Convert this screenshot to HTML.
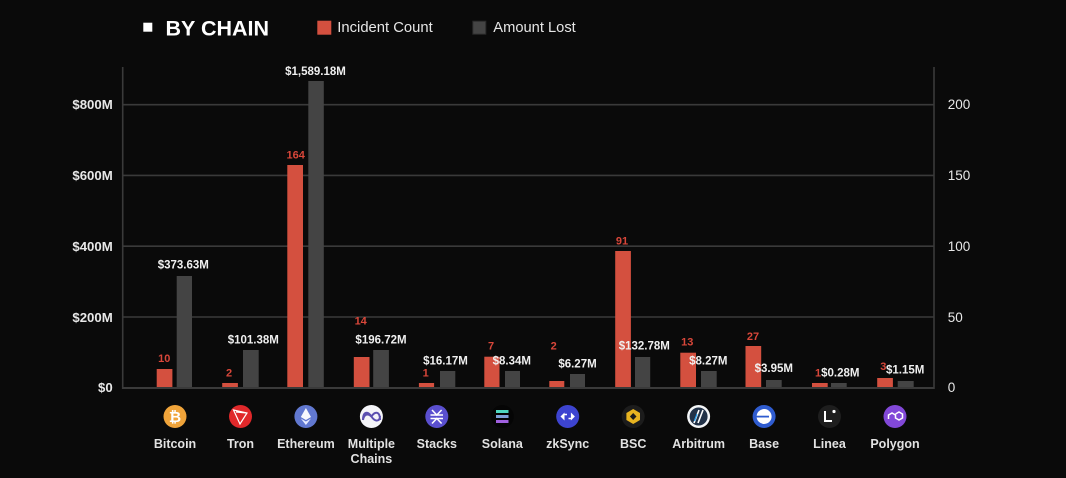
<!DOCTYPE html>
<html><head><meta charset="utf-8"><style>
html,body{margin:0;padding:0;background:#0a0a0a;}
svg{display:block;}
text{font-family:"Liberation Sans",sans-serif;}
</style></head><body>
<svg width="1066" height="478" viewBox="0 0 1066 478" xmlns="http://www.w3.org/2000/svg">
<rect width="1066" height="478" fill="#0a0a0a"/>
<!-- title & legend -->
<rect x="143.3" y="22.7" width="9" height="9" fill="#fff"/>
<text x="165.5" y="35.7" font-size="21.5" font-weight="bold" fill="#fff">BY CHAIN</text>
<rect x="317.3" y="20.7" width="14" height="14" fill="#d4503f"/>
<text x="337.3" y="32" font-size="14.8" fill="#e6e6e6">Incident Count</text>
<rect x="472.8" y="21.2" width="13" height="13" fill="#444" stroke="#2a2a2a" stroke-width="1"/>
<text x="493.3" y="32" font-size="14.7" fill="#e6e6e6">Amount Lost</text>

<!-- grid -->
<g stroke="#3a3a3a" stroke-width="1.6">
<line x1="122" y1="104.7" x2="934" y2="104.7"/>
<line x1="122" y1="175.4" x2="934" y2="175.4"/>
<line x1="122" y1="246.2" x2="934" y2="246.2"/>
<line x1="122" y1="317" x2="934" y2="317"/>
<line x1="122.7" y1="67" x2="122.7" y2="389"/>
<line x1="934" y1="67" x2="934" y2="389"/>
</g>

<!-- bars -->
<g fill="#d4503f">
<rect x="156.7" y="369" width="15.7" height="19"/>
<rect x="222.2" y="383" width="15.7" height="5"/>
<rect x="287.3" y="165" width="15.7" height="223"/>
<rect x="353.8" y="357" width="15.7" height="31"/>
<rect x="418.9" y="383" width="15.2" height="5"/>
<rect x="484.3" y="356.7" width="15.2" height="31.3"/>
<rect x="549.3" y="381" width="15" height="7"/>
<rect x="615.2" y="251" width="15.7" height="137"/>
<rect x="680.3" y="352.7" width="15.7" height="35.3"/>
<rect x="745.5" y="346" width="15.7" height="42"/>
<rect x="812" y="383" width="15.7" height="5"/>
<rect x="877.2" y="378" width="15.7" height="10"/>
</g>
<g fill="#444">
<rect x="176.7" y="276" width="15.3" height="112"/>
<rect x="243" y="350" width="15.7" height="38"/>
<rect x="308.3" y="81" width="15.5" height="307"/>
<rect x="373.2" y="350" width="15.7" height="38"/>
<rect x="440" y="371" width="15.3" height="17"/>
<rect x="505" y="371" width="15" height="17"/>
<rect x="570" y="374" width="15" height="14"/>
<rect x="635" y="357" width="15.2" height="31"/>
<rect x="701" y="371" width="15.7" height="17"/>
<rect x="766" y="380" width="15.7" height="8"/>
<rect x="831" y="383" width="15.7" height="5"/>
<rect x="897.7" y="381" width="16" height="7"/>
</g>
<line x1="122" y1="388" x2="934" y2="388" stroke="#3a3a3a" stroke-width="2"/>

<!-- axis labels -->
<g font-size="13.2" font-weight="bold" fill="#e8e8e8" text-anchor="end">
<text x="112.7" y="109">$800M</text>
<text x="112.7" y="180">$600M</text>
<text x="112.7" y="251">$400M</text>
<text x="112.7" y="322">$200M</text>
<text x="112.7" y="392">$0</text>
</g>
<g font-size="13.5" fill="#e8e8e8">
<text x="947.7" y="109">200</text>
<text x="947.7" y="180">150</text>
<text x="947.7" y="251">100</text>
<text x="947.7" y="322">50</text>
<text x="947.7" y="392">0</text>
</g>

<!-- red value labels -->
<g font-size="11" font-weight="bold" fill="#d9473a" text-anchor="middle">
<text x="164.3" y="362">10</text>
<text x="229" y="376.7">2</text>
<text x="295.7" y="158.3">164</text>
<text x="360.7" y="324.3">14</text>
<text x="425.7" y="376.7">1</text>
<text x="491" y="349.3">7</text>
<text x="553.7" y="349.3">2</text>
<text x="622" y="244.5">91</text>
<text x="687.3" y="345.3">13</text>
<text x="753" y="340">27</text>
<text x="818" y="376.7">1</text>
<text x="883.3" y="370">3</text>
</g>
<!-- white value labels -->
<g font-size="11.5" font-weight="bold" fill="#f0f0f0" text-anchor="middle">
<text x="183.3" y="268.4">$373.63M</text>
<text x="253.3" y="343.4">$101.38M</text>
<text x="315.5" y="75.1">$1,589.18M</text>
<text x="381" y="343.4">$196.72M</text>
<text x="445.5" y="364.4">$16.17M</text>
<text x="511.8" y="364.4">$8.34M</text>
<text x="577.5" y="367.4">$6.27M</text>
<text x="644.3" y="349.4">$132.78M</text>
<text x="708.3" y="364.4">$8.27M</text>
<text x="773.8" y="372.1">$3.95M</text>
<text x="840.3" y="376.4">$0.28M</text>
<text x="905.2" y="373.4">$1.15M</text>
</g>

<!-- icons -->
<circle cx="175" cy="416.5" r="11.5" fill="#f0a43a"/>
<text x="175" y="422" font-size="15" font-weight="bold" fill="#fff" text-anchor="middle" font-family="DejaVu Sans, sans-serif">₿</text>
<circle cx="240.5" cy="416.5" r="11.5" fill="#e0282a"/>
<path d="M233.5 410 L247 413 L240 424 Z M233.5 410 L240 424 M236 412 L247 413" fill="none" stroke="#fff" stroke-width="1.2"/>
<circle cx="305.9" cy="416.5" r="11.5" fill="#6178d0"/>
<path d="M305.9 408 L311 417 L305.9 420 L300.8 417 Z" fill="#fff" opacity="0.95"/>
<path d="M300.8 418.5 L305.9 421.5 L311 418.5 L305.9 425 Z" fill="#e8ecff"/>
<circle cx="371.4" cy="416.5" r="11.5" fill="#f4f4f8"/>
<path d="M363 420 C363 411 368 411 371.4 416.5 C375 422 380 422 380 416 M363 420 C364 414 368 413 371.4 416.5 C375 411 380 411 380 420" fill="none" stroke="#5b4fb0" stroke-width="2"/>
<circle cx="436.8" cy="416.5" r="11.5" fill="#5a4fcf"/>
<g stroke="#fff" stroke-width="1.5" fill="none">
<line x1="430.5" y1="415" x2="443" y2="415"/>
<line x1="430.5" y1="418.5" x2="443" y2="418.5"/>
<path d="M432 410 L436.8 415 L441.6 410 M432 423.5 L436.8 418.5 L441.6 423.5"/>
</g>
<circle cx="502.3" cy="416.5" r="11.5" fill="#050505"/>
<g stroke-width="3">
<line x1="496" y1="411.5" x2="508.5" y2="411.5" stroke="#4fd8c0"/>
<line x1="496" y1="416.5" x2="508.5" y2="416.5" stroke="#7fa0d8"/>
<line x1="496" y1="421.5" x2="508.5" y2="421.5" stroke="#a060e0"/>
</g>
<circle cx="567.7" cy="416.5" r="11.5" fill="#3d44d0"/>
<path d="M560.5 416.5 L564.5 412.5 L564.5 420.5 Z M574.9 416.5 L570.9 412.5 L570.9 420.5 Z" fill="#fff"/>
<line x1="564" y1="414.5" x2="567" y2="414.5" stroke="#fff" stroke-width="1.5"/>
<line x1="568.5" y1="418.5" x2="571.5" y2="418.5" stroke="#fff" stroke-width="1.5"/>
<circle cx="633.2" cy="416.5" r="11.5" fill="#1c1c1c"/>
<path d="M633.2 409 L640 413 L640 420 L633.2 424 L626.4 420 L626.4 413 Z" fill="#e8b420"/>
<path d="M633.2 413 L636.5 416.5 L633.2 420 L629.9 416.5 Z" fill="#1c1c1c"/>
<circle cx="698.6" cy="416.5" r="11.5" fill="#f4f6f8"/>
<circle cx="698.6" cy="416.5" r="9" fill="#223248"/>
<path d="M694 423 L699 410 M698 423 L703 410" stroke="#fff" stroke-width="1.6"/>
<path d="M694.5 421 L697 414" stroke="#28a0f0" stroke-width="1.2"/>
<circle cx="764.1" cy="416.5" r="11.5" fill="#2f5cd0"/>
<circle cx="764.1" cy="416.5" r="7.5" fill="#fff"/>
<rect x="756" y="415.7" width="13" height="1.8" fill="#2f5cd0"/>
<circle cx="829.5" cy="416.5" r="11.5" fill="#1e1e1e"/>
<path d="M825 411 L825 421 L832 421" fill="none" stroke="#fff" stroke-width="2"/>
<circle cx="834" cy="411.5" r="1.6" fill="#fff"/>
<circle cx="895" cy="416.5" r="11.5" fill="#8248d8"/>
<path d="M888.5 419 L888.5 415 L892 413 L895.5 415 L895.5 418 L899 420 L902.5 418 L902.5 414 L899 412 L895.5 414" fill="none" stroke="#fff" stroke-width="1.5"/>

<!-- category labels -->
<g font-size="12.5" font-weight="bold" fill="#e2e2e2" text-anchor="middle">
<text x="175" y="448">Bitcoin</text>
<text x="240.5" y="448">Tron</text>
<text x="305.9" y="448">Ethereum</text>
<text x="371.4" y="448">Multiple</text>
<text x="371.4" y="463">Chains</text>
<text x="436.8" y="448">Stacks</text>
<text x="502.3" y="448">Solana</text>
<text x="567.7" y="448">zkSync</text>
<text x="633.2" y="448">BSC</text>
<text x="698.6" y="448">Arbitrum</text>
<text x="764.1" y="448">Base</text>
<text x="829.5" y="448">Linea</text>
<text x="895" y="448">Polygon</text>
</g>
</svg>
</body></html>
